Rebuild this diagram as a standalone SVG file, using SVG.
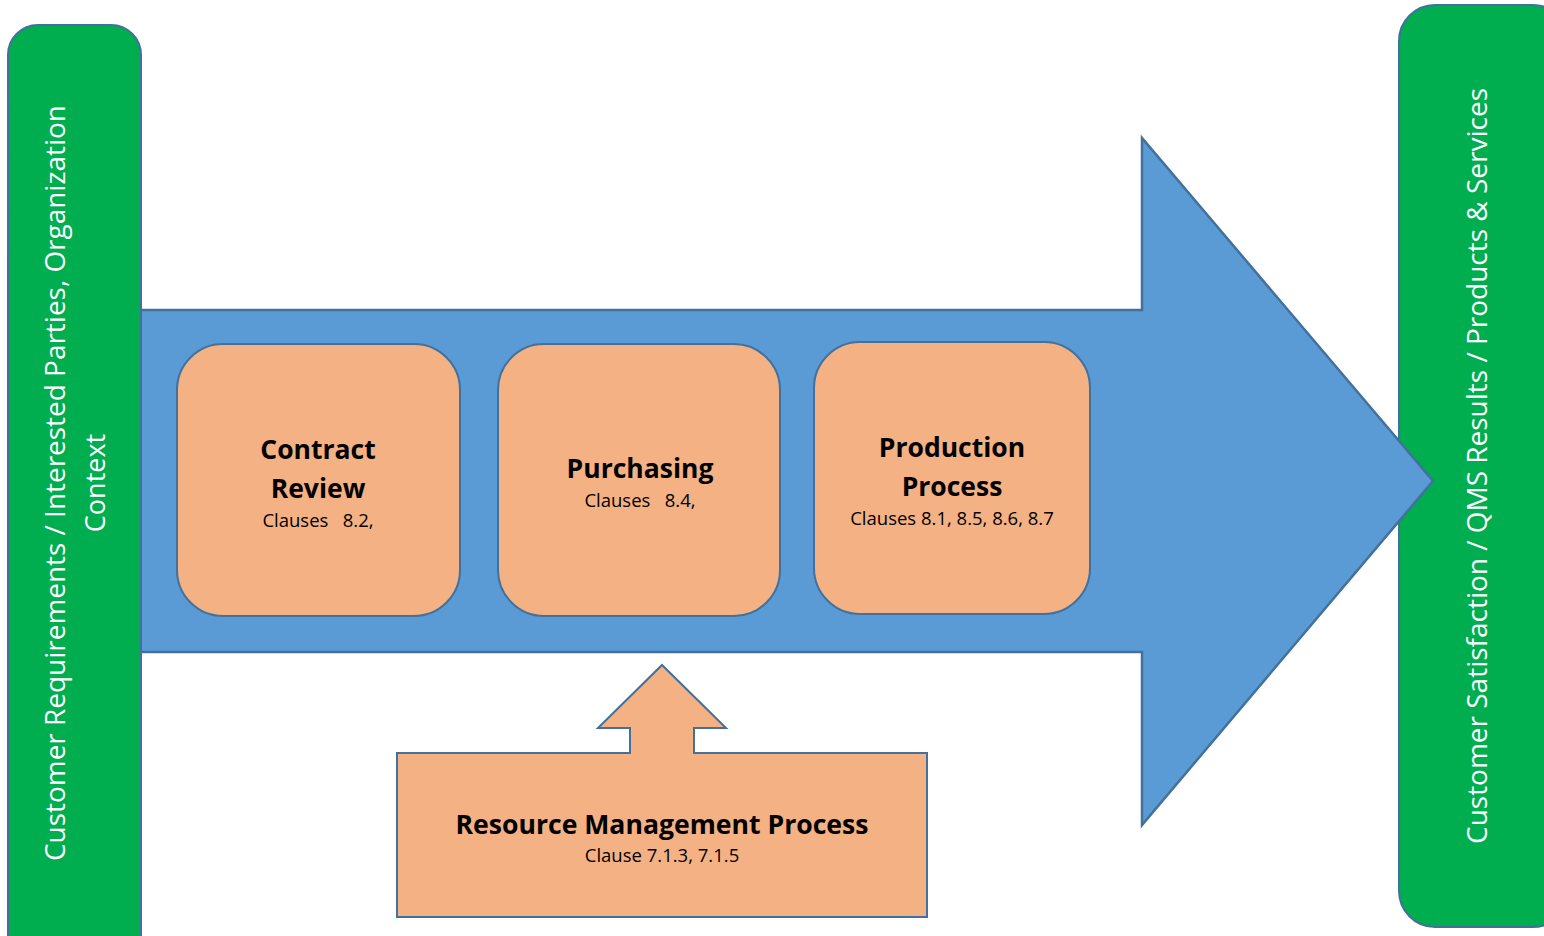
<svg xmlns="http://www.w3.org/2000/svg" width="1544" height="936" viewBox="0 0 1544 936">
  <style>
    .bar { fill: #00AD4F; stroke: #41719C; stroke-width: 2; }
    .flow { fill: #5B9BD5; stroke: #41719C; stroke-width: 2.5; }
    .step { fill: #F4B183; stroke: #41719C; stroke-width: 2; }
    .side { font-family: "Open Sans", "Liberation Sans", sans-serif; font-size: 27px; fill: #FFFFFF; }
    .title { font-family: "Open Sans", "Liberation Sans", sans-serif; font-size: 26.5px; font-weight: bold; fill: #000000; }
    .sub { font-family: "Open Sans", "Liberation Sans", sans-serif; font-size: 18.5px; fill: #000000; }
  </style>
  <rect width="1544" height="936" fill="#FFFFFF"/>

  <!-- right outcome bar -->
  <g id="outputs">
    <rect class="bar" x="1399" y="5" width="170" height="922" rx="36"/>
    <text class="side" transform="translate(1487,466) rotate(-90)" text-anchor="middle" textLength="756" lengthAdjust="spacingAndGlyphs">Customer Satisfaction / QMS Results / Products &amp; Services</text>
  </g>

  <!-- main process flow arrow -->
  <g id="connectors">
    <polygon class="flow" points="130,310 1142,310 1142,138 1433,481 1142,825 1142,652 130,652"/>
  </g>

  <!-- left input bar -->
  <g id="inputs">
    <rect class="bar" x="8" y="25" width="133" height="940" rx="30"/>
    <text class="side" transform="translate(65,483) rotate(-90)" text-anchor="middle" textLength="756" lengthAdjust="spacingAndGlyphs">Customer Requirements / Interested Parties, Organization</text>
    <text class="side" transform="translate(105,483) rotate(-90)" text-anchor="middle">Context</text>
  </g>

  <g id="contract-review">
    <rect class="step" x="177" y="344" width="283" height="272" rx="46"/>
    <text class="title" x="318" y="459" text-anchor="middle">Contract</text>
    <text class="title" x="318" y="498" text-anchor="middle">Review</text>
    <text class="sub" x="318" y="527" text-anchor="middle" xml:space="preserve">Clauses   8.2,</text>
  </g>

  <g id="purchasing">
    <rect class="step" x="498" y="344" width="282" height="272" rx="46"/>
    <text class="title" x="640" y="478" text-anchor="middle">Purchasing</text>
    <text class="sub" x="640" y="507" text-anchor="middle" xml:space="preserve">Clauses   8.4,</text>
  </g>

  <g id="production">
    <rect class="step" x="814" y="342" width="276" height="272" rx="46"/>
    <text class="title" x="952" y="457" text-anchor="middle">Production</text>
    <text class="title" x="952" y="496" text-anchor="middle">Process</text>
    <text class="sub" x="952" y="525" text-anchor="middle">Clauses 8.1, 8.5, 8.6, 8.7</text>
  </g>

  <g id="resource-management">
    <polygon class="step" points="397,753 630,753 630,728 598,728 662,665 726,728 694,728 694,753 927,753 927,917 397,917"/>
    <text class="title" x="662" y="834" text-anchor="middle" textLength="413" lengthAdjust="spacingAndGlyphs">Resource Management Process</text>
    <text class="sub" x="662" y="862" text-anchor="middle">Clause 7.1.3, 7.1.5</text>
  </g>
</svg>
